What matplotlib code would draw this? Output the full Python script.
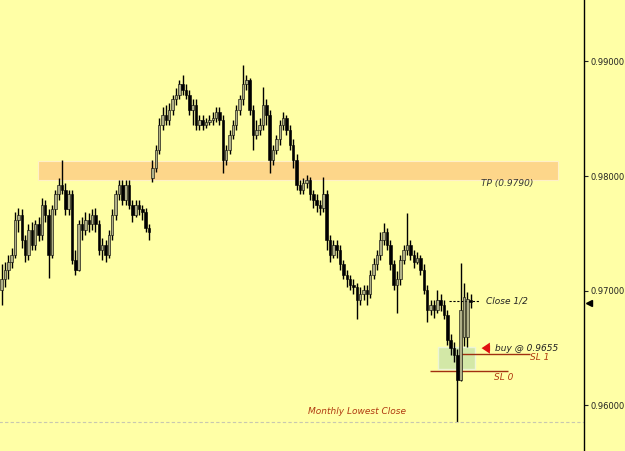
import matplotlib
matplotlib.use("Agg")
import matplotlib.pyplot as plt
import matplotlib.transforms as mtransforms
from matplotlib.patches import Rectangle
import numpy as np

# OHLC per candle
opens = [0.9701, 0.9710, 0.9718, 0.9725, 0.9731, 0.9762, 0.9766, 0.9744, 0.9731, 0.9753,
         0.9740, 0.9758, 0.9749, 0.9775, 0.9766, 0.9731, 0.9771, 0.9784, 0.9792, 0.9788,
         0.9771, 0.9784, 0.9727, 0.9718, 0.9758, 0.9753, 0.9762, 0.9758, 0.9766, 0.9758,
         0.9736, 0.9740, 0.9731, 0.9749, 0.9766, 0.9784, 0.9792, 0.9779, 0.9792, 0.9775,
         0.9766, 0.9775, 0.9771, 0.9769, 0.9755, 0.9798, 0.9807, 0.9823, 0.9845, 0.9853,
         0.9849, 0.9858, 0.9867, 0.9871, 0.9880, 0.9875, 0.9871, 0.9858, 0.9862, 0.9845,
         0.9849, 0.9845, 0.9847, 0.9849, 0.9851, 0.9856, 0.9849, 0.9814, 0.9823, 0.9836,
         0.9845, 0.9858, 0.9867, 0.9880, 0.9884, 0.9858, 0.9836, 0.9840, 0.9845, 0.9862,
         0.9853, 0.9814, 0.9823, 0.9832, 0.9845, 0.9851, 0.9840, 0.9827, 0.9814, 0.9792,
         0.9788, 0.9794, 0.9797, 0.9784, 0.9779, 0.9775, 0.9772, 0.9784, 0.9744, 0.9731,
         0.9740, 0.9736, 0.9723, 0.9714, 0.9710, 0.9705, 0.9703, 0.9692, 0.9697, 0.9701,
         0.9697, 0.9714, 0.9723, 0.9731, 0.9744, 0.9751, 0.9740, 0.9723, 0.9705, 0.9710,
         0.9727, 0.9736, 0.9740, 0.9731, 0.9725, 0.9729, 0.9718, 0.9701, 0.9683, 0.9688,
         0.9683, 0.9692, 0.9688, 0.9679, 0.9657, 0.9650, 0.9644, 0.9622, 0.9660, 0.9660,
         0.9692]
closes = [0.9710, 0.9718, 0.9725, 0.9731, 0.9762, 0.9766, 0.9744, 0.9731, 0.9753, 0.9740,
          0.9758, 0.9749, 0.9775, 0.9766, 0.9731, 0.9771, 0.9784, 0.9792, 0.9788, 0.9771,
          0.9784, 0.9727, 0.9718, 0.9758, 0.9753, 0.9762, 0.9758, 0.9766, 0.9758, 0.9736,
          0.9740, 0.9731, 0.9749, 0.9766, 0.9784, 0.9792, 0.9779, 0.9792, 0.9775, 0.9766,
          0.9775, 0.9771, 0.9769, 0.9755, 0.9751, 0.9807, 0.9823, 0.9845, 0.9853, 0.9849,
          0.9858, 0.9867, 0.9871, 0.9880, 0.9875, 0.9871, 0.9858, 0.9862, 0.9845, 0.9849,
          0.9845, 0.9847, 0.9849, 0.9851, 0.9856, 0.9849, 0.9814, 0.9823, 0.9836, 0.9845,
          0.9858, 0.9867, 0.9880, 0.9884, 0.9858, 0.9836, 0.9840, 0.9845, 0.9862, 0.9853,
          0.9814, 0.9823, 0.9832, 0.9845, 0.9851, 0.9840, 0.9827, 0.9814, 0.9792, 0.9788,
          0.9794, 0.9797, 0.9784, 0.9779, 0.9775, 0.9772, 0.9784, 0.9744, 0.9731, 0.9740,
          0.9736, 0.9723, 0.9714, 0.9710, 0.9705, 0.9703, 0.9692, 0.9697, 0.9701, 0.9697,
          0.9714, 0.9723, 0.9731, 0.9744, 0.9751, 0.9740, 0.9723, 0.9705, 0.9710, 0.9727,
          0.9736, 0.9740, 0.9731, 0.9725, 0.9729, 0.9718, 0.9701, 0.9683, 0.9688, 0.9683,
          0.9692, 0.9688, 0.9679, 0.9657, 0.9650, 0.9644, 0.9622, 0.9683, 0.9695, 0.9693,
          0.9690]
highs = [0.9723, 0.9725, 0.9731, 0.9737, 0.9769, 0.9772, 0.9771, 0.9749, 0.9758, 0.9760,
         0.9762, 0.9764, 0.9781, 0.9779, 0.9771, 0.9775, 0.9788, 0.9798, 0.9814, 0.9794,
         0.9788, 0.9788, 0.9736, 0.9762, 0.9764, 0.9769, 0.9768, 0.9771, 0.9772, 0.9762,
         0.9746, 0.9744, 0.9753, 0.9771, 0.9788, 0.9797, 0.9797, 0.9797, 0.9797, 0.9779,
         0.9779, 0.9779, 0.9775, 0.9772, 0.9758, 0.9814, 0.9827, 0.9851, 0.9860, 0.9862,
         0.9864, 0.9871, 0.9877, 0.9884, 0.9888, 0.9880, 0.9875, 0.9867, 0.9867, 0.9853,
         0.9853, 0.9851, 0.9853, 0.9856, 0.9860, 0.9860, 0.9853, 0.9827, 0.9840, 0.9849,
         0.9862, 0.9871, 0.9897, 0.9888, 0.9886, 0.9862, 0.9849, 0.9851, 0.9878, 0.9867,
         0.9858, 0.9827, 0.9836, 0.9849, 0.9856, 0.9853, 0.9845, 0.9832, 0.9819, 0.9797,
         0.9798, 0.9801, 0.9799, 0.9788, 0.9784, 0.9779, 0.9799, 0.9788, 0.9749, 0.9744,
         0.9744, 0.9740, 0.9727, 0.9718, 0.9714, 0.9710, 0.9707, 0.9703, 0.9705, 0.9705,
         0.9718, 0.9729, 0.9736, 0.9751, 0.9759, 0.9755, 0.9744, 0.9727, 0.9717, 0.9731,
         0.9740, 0.9768, 0.9744, 0.9736, 0.9734, 0.9731, 0.9723, 0.9705, 0.9692, 0.9692,
         0.9701, 0.9697, 0.9692, 0.9683, 0.9662, 0.9655, 0.9649, 0.9724, 0.9707, 0.9699,
         0.9697]
lows = [0.9688, 0.9703, 0.9710, 0.9720, 0.9729, 0.9751, 0.9737, 0.9725, 0.9727, 0.9736,
        0.9736, 0.9743, 0.9744, 0.9760, 0.9711, 0.9729, 0.9766, 0.9779, 0.9784, 0.9766,
        0.9766, 0.9723, 0.9714, 0.9717, 0.9744, 0.9749, 0.9751, 0.9753, 0.9751, 0.9731,
        0.9727, 0.9725, 0.9729, 0.9744, 0.9762, 0.9779, 0.9775, 0.9775, 0.9771, 0.9760,
        0.9764, 0.9766, 0.9762, 0.9751, 0.9744, 0.9795, 0.9804, 0.9819, 0.9840, 0.9845,
        0.9845, 0.9853, 0.9862, 0.9867, 0.9871, 0.9867, 0.9853, 0.9845, 0.9840, 0.9840,
        0.9840, 0.9842, 0.9845, 0.9845, 0.9847, 0.9845, 0.9803, 0.9810, 0.9819, 0.9832,
        0.9840, 0.9853, 0.9862, 0.9875, 0.9853, 0.9823, 0.9832, 0.9836, 0.9840, 0.9845,
        0.9803, 0.9810, 0.9819, 0.9827, 0.9840, 0.9836, 0.9823, 0.9807, 0.9788, 0.9784,
        0.9784, 0.9790, 0.9779, 0.9772, 0.9769, 0.9766, 0.9769, 0.9736, 0.9725, 0.9729,
        0.9729, 0.9718, 0.9710, 0.9703, 0.9701, 0.9697, 0.9675, 0.9688, 0.9692, 0.9688,
        0.9694, 0.9710, 0.9718, 0.9727, 0.9740, 0.9736, 0.9718, 0.9701, 0.9681, 0.9705,
        0.9723, 0.9731, 0.9727, 0.9720, 0.9723, 0.9714, 0.9697, 0.9673, 0.9679, 0.9676,
        0.9681, 0.9682, 0.9675, 0.9653, 0.9644, 0.9638, 0.9586, 0.9621, 0.9652, 0.9651,
        0.9685]

yticks = [0.96, 0.97, 0.98, 0.99]
tp_band = (0.9797, 0.9813)
entry_box = (0.9632, 0.9651)
sl1 = 0.9645
sl0 = 0.9630
close_half = 0.9691
monthly_low = 0.9586
last_price = 0.9689

BG = "#ffffa6"
BULL = "#b0b088"

fig = plt.figure(figsize=(6.25, 4.51), dpi=100, facecolor=BG)
ax = fig.add_axes([0, 0, 584 / 625, 1], facecolor=BG)

x = np.arange(len(closes))
o = np.array(opens)
c = np.array(closes)
h = np.array(highs)
l = np.array(lows)

ax.add_patch(Rectangle((10.9, tp_band[0]), 155.2, tp_band[1] - tp_band[0],
                       facecolor="#fdd68a", edgecolor="#fff0c8", lw=0.8, zorder=1))
ax.add_patch(Rectangle((130.3, entry_box[0]), 11, entry_box[1] - entry_box[0],
                       facecolor="#cfe6a8", edgecolor="#eef6dc", lw=1.0, alpha=0.9, zorder=1))

ax.vlines(x, l, h, color="black", lw=1.0, zorder=2)
up = c >= o
ax.bar(x[up], (c - o)[up], bottom=o[up], width=0.75, color=BULL,
       edgecolor="black", linewidth=0.4, zorder=3)
ax.bar(x[~up], (o - c)[~up], bottom=c[~up], width=0.75, color="black",
       edgecolor="black", linewidth=0.4, zorder=3)

ax.hlines(monthly_low, -1, 180, colors="#c8c8b0", linestyles=(0, (3, 2)), lw=0.8)
ax.hlines(close_half, 133.6, 142.8, colors="black", linestyles=(0, (2, 1.5)), lw=0.8)
ax.hlines(sl1, 136.9, 157.8, colors="#a03010", lw=1.0)
ax.hlines(sl0, 127.9, 151.2, colors="#a03010", lw=1.0)

tkw = dict(fontsize=6.5, style="italic", va="center")
ax.text(143.0, 0.9794, "TP (0.9790)", color="#333333", **tkw)
ax.text(144.6, close_half, "Close 1/2", color="#222222", **tkw)
ax.text(147.3, 0.9650, "buy @ 0.9655", color="#222222", **tkw)
ax.text(157.8, 0.9642, "SL 1", color="#b03a10", **tkw)
ax.text(147.0, 0.9624, "SL 0", color="#b03a10", **tkw)
ax.text(91.5, 0.9595, "Monthly Lowest Close", color="#b03a10", **tkw)
ax.annotate("", xy=(142.4, 0.9650), xytext=(146.6, 0.9650),
            arrowprops=dict(arrowstyle="simple,head_width=0.8,head_length=0.6,tail_width=0.4",
                            color="#e01010", lw=0))

ax.set_xlim(-0.5, 173.8)
ax.set_ylim(0.95603, 0.99536)
ax.yaxis.tick_right()
ax.set_yticks(yticks)
ax.set_yticklabels([f"{v:.5f}" for v in yticks])
ax.tick_params(axis="y", direction="out", length=3, width=0.8, labelsize=6, pad=2,
               colors="#222222")
ax.set_xticks([])
for side in ["left", "top", "bottom"]:
    ax.spines[side].set_visible(False)
ax.spines["right"].set_linewidth(1.0)

trans = mtransforms.blended_transform_factory(ax.transAxes, ax.transData)
ax.plot([1.008], [last_price], marker="<", color="black", markersize=4,
        transform=trans, clip_on=False)

fig.savefig("out.png", dpi=100, facecolor=BG)
